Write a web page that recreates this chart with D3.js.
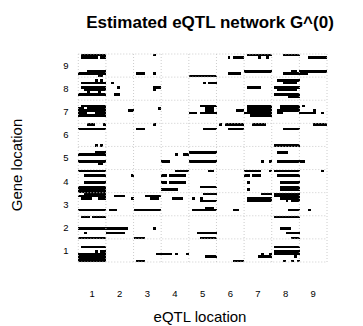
<!DOCTYPE html>
<html><head><meta charset="utf-8">
<script src="https://cdn.jsdelivr.net/npm/d3@7"></script>
<style>body{margin:0;background:#fff}svg{display:block}text{font-family:"Liberation Sans",Arial,sans-serif;fill:#000}</style>
</head><body><svg id="c" width="363" height="326"></svg>
<script>
// Edge segments of the estimated network: gene index (1 = bottom), eQTL index range [from, to]
const segGene = [90,90,90,90, 89,89,89,89,89,89,89, 83,83,83,83, 82,82,82,82,82,82, 81,81,
  79,79,79, 78,78,78,78,78, 76,76,76,76,76, 75,75,75, 74,74, 73,73,73, 72,
  68,68,68,68,68, 67,67,67,67,67,67, 66,66,66,66,66,66,66, 65,65,65,65,65,65,65,65, 64,64,
  60,60,60,60,60,60,60, 58,58,58,58,58, 51,51,51, 48,48,48, 47,47,47, 44,44,44,44,44,44, 43,
  40,40,40,40,40,40,40, 38,38,38,38,38,38,38, 35,35,35,35,35, 33,33,33, 32,32,32,32, 31,
  30,30,30,30, 29,29,29,29, 28,28,28,28,28,28,28,28,28, 27,27,27,27, 24, 23,23,23,23,23,23,23,
  20,20,20, 15,15,15, 13,13,13,13, 11,11,11,11, 7,7, 5,5,5, 4,4,4,4,4,4,4, 3,3,3,3, 2, 1,1,1,1,1,1];
const segFrom = [2,28,62,75, 2,9,55,57,66,69,84, 4,61,78,81, 1,22,28,55,75,81, 8,41,
  7,9,73, 2,13,46,48,75, 2,15,28,62,72, 3,28,73, 4,8, 1,14,72, 77,
  2,45,62,74,82, 1,4,30,47,62,74, 1,19,47,58,62,73,86, 1,7,41,45,61,73,81,89, 1,63,
  4,10,28,52,54,64,86, 1,22,46,55,75, 7,9,72, 7,41,73, 1,36,39, 1,31,41,67,70,73, 8,
  1,36,48,61,70,72,89, 3,20,31,34,61,64,73, 3,31,34,62,74, 1,45,74, 1,31,62,74, 1,
  3,46,67,72, 1,14,25,72, 2,8,20,27,35,42,45,62,74, 45,62,76,78, 47, 1,12,21,42,57,77,84,
  2,6,72, 1,28,74, 3,11,44,76, 1,21,45,78, 2,72, 7,9,72, 1,29,36,40,67,70,72, 1,47,66,79, 1, 1,22,57,75,78,80];
const segTo = [10,28,70,80, 7,10,55,60,66,69,90, 10,70,79,90, 10,24,28,59,80,83, 9,50,
  7,9,80, 10,13,46,50,79, 10,15,30,66,80, 10,28,79, 4,8, 10,15,80, 80,
  10,50,70,80,82, 2,10,30,49,70,80, 10,20,49,60,70,80,86, 3,10,43,50,70,74,86,89, 10,70,
  6,10,28,52,60,68,90, 10,24,50,60,80, 7,9,80, 10,50,76, 10,36,40, 10,33,50,67,70,82, 9,
  10,40,49,66,70,80,89, 10,20,32,39,62,66,80, 10,32,39,62,80, 10,50,80, 10,36,62,80, 10,
  10,50,70,80, 10,17,30,80, 5,10,20,29,38,42,45,70,80, 50,70,76,80, 49, 10,14,30,50,58,80,84,
  4,10,80, 18,28,77, 3,17,50,80, 10,24,50,80, 10,80, 7,10,80, 10,34,36,40,67,70,80, 10,50,70,79, 10, 10,24,60,75,78,80];
const nGenes = 90, nEqtl = 90;
const blockLabels = ["1","2","3","4","5","6","7","8","9"];
const titleText = "Estimated eQTL network G^(0)";
const xTitle = "eQTL location", yTitle = "Gene location";

const svg = d3.select("#c");
const x = d3.scaleBand().domain(d3.range(1, nEqtl + 1)).range([78.3, 327]).padding(0);
const y = d3.scaleBand().domain(d3.range(nGenes, 0, -1)).range([54, 262]).padding(0);

// expand segments into cells
const cells = [];
segGene.forEach((g, i) => { for (let e = segFrom[i]; e <= segTo[i]; e++) cells.push({g, e}); });

svg.append("g").selectAll("rect").data(cells).join("rect")
  .attr("x", d => x(d.e)).attr("y", d => y(d.g))
  .attr("width", x.bandwidth() + 0.15).attr("height", y.bandwidth() + 0.15)
  .attr("fill", "#000").attr("shape-rendering", "crispEdges");

// dotted grid at block boundaries
const bx = d3.range(0, 10).map(k => k < 9 ? x(k * 10 + 1) : x(90) + x.bandwidth());
const by = d3.range(0, 10).map(k => k < 9 ? y(k * 10 + 1) + y.bandwidth() : y(90));
const grid = svg.append("g").attr("stroke", "#cccccc").attr("stroke-width", 1).attr("stroke-dasharray", "1,2");
grid.selectAll("line.v").data(bx).join("line").attr("class", "v")
  .attr("x1", d => d).attr("x2", d => d).attr("y1", 54).attr("y2", 262);
grid.selectAll("line.h").data(by).join("line").attr("class", "h")
  .attr("y1", d => d).attr("y2", d => d).attr("x1", 78.3).attr("x2", 327);

// tick labels (block centres)
svg.append("g").selectAll("text").data(blockLabels).join("text")
  .attr("x", (d, i) => (x(i * 10 + 1) + x(i * 10 + 10) + x.bandwidth()) / 2)
  .attr("y", 297).attr("text-anchor", "middle").attr("font-size", 9.5).text(d => d);
svg.append("g").selectAll("text").data(blockLabels).join("text")
  .attr("x", 66)
  .attr("y", (d, i) => (y(i * 10 + 1) + y.bandwidth() + y(i * 10 + 10)) / 2 + 3.4)
  .attr("text-anchor", "middle").attr("font-size", 9.5).text(d => d);

svg.append("text").attr("x", 210).attr("y", 28).attr("text-anchor", "middle")
  .attr("font-size", 17).attr("font-weight", "bold").text(titleText);
svg.append("text").attr("x", 200).attr("y", 322).attr("text-anchor", "middle")
  .attr("font-size", 15).text(xTitle);
svg.append("text").attr("transform", "translate(22,165) rotate(-90)").attr("text-anchor", "middle")
  .attr("font-size", 15).text(yTitle);
</script></body></html>
